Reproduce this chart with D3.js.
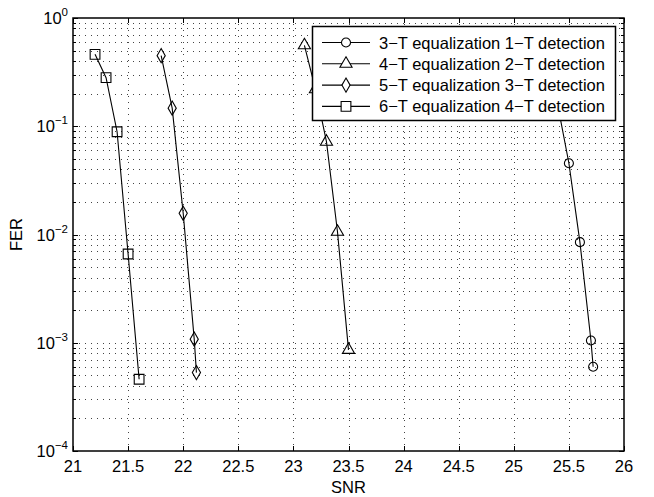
<!DOCTYPE html>
<html>
<head>
<meta charset="utf-8">
<script src="https://cdn.jsdelivr.net/npm/d3@7"></script>
<style>
  body { margin: 0; background: #fff; }
  text { font-family: "Liberation Sans", Arial, sans-serif; }
</style>
</head>
<body>
<div id="viz_area"></div>
<script>
// series data
var snr3 = [25.3, 25.4, 25.5, 25.6, 25.7, 25.72];
var fer3 = [0.5, 0.154, 0.0455, 0.0085, 0.00105, 0.0006];
var snr4 = [23.1, 23.2, 23.3, 23.4, 23.5];
var fer4 = [0.56, 0.22, 0.072, 0.0106, 0.00086];
var snr5 = [21.8, 21.9, 22.0, 22.1, 22.12];
var fer5 = [0.449, 0.147, 0.0157, 0.00108, 0.00053];
var snr6 = [21.2, 21.3, 21.4, 21.5, 21.6];
var fer6 = [0.462, 0.281, 0.089, 0.0066, 0.00046];
var seriesNames = ["3\u2212T equalization 1\u2212T detection", "4\u2212T equalization 2\u2212T detection",
                   "5\u2212T equalization 3\u2212T detection", "6\u2212T equalization 4\u2212T detection"];
var xTicks = [21, 21.5, 22, 22.5, 23, 23.5, 24, 24.5, 25, 25.5, 26];
var yDecades = [0, -1, -2, -3, -4];

function __init__() {
    drawChart();
}

function drawChart() {
    var w = 654, h = 497;
    var m = {left: 73, top: 18, right: 30, bottom: 46};
    var iw = w - m.left - m.right, ih = h - m.top - m.bottom;
    var fs = 16.5;

    var svg = d3.select("#viz_area").append("svg")
        .attr("width", w).attr("height", h);

    var x = d3.scaleLinear().domain([21, 26]).range([m.left, m.left + iw]);
    var y = d3.scaleLog().domain([1e-4, 1]).range([m.top + ih, m.top]);

    // minor values for the log grid
    var minors = [];
    for (var e = -4; e < 0; e++) {
        for (var k = 2; k <= 9; k++) minors.push(k * Math.pow(10, e));
    }
    var majors = yDecades.map(function(d) { return Math.pow(10, d); });

    var grid = svg.append("g").attr("stroke", "#444").attr("stroke-width", 1)
        .attr("stroke-dasharray", "1,5");
    grid.selectAll(".gx").data(xTicks.slice(1, -1)).enter().append("line")
        .attr("x1", function(d) { return Math.round(x(d)) + 0.5; })
        .attr("x2", function(d) { return Math.round(x(d)) + 0.5; })
        .attr("y1", m.top).attr("y2", m.top + ih);
    grid.selectAll(".gy").data(minors.concat(majors.slice(1, -1))).enter().append("line")
        .attr("y1", function(d) { return Math.round(y(d)) + 0.5; })
        .attr("y2", function(d) { return Math.round(y(d)) + 0.5; })
        .attr("x1", m.left).attr("x2", m.left + iw);

    // ticks (inward, both sides)
    var ticks = svg.append("g").attr("stroke", "#000").attr("stroke-width", 1);
    xTicks.forEach(function(t) {
        var xx = Math.round(x(t)) + 0.5;
        ticks.append("line").attr("x1", xx).attr("x2", xx).attr("y1", m.top + ih).attr("y2", m.top + ih - 5);
        ticks.append("line").attr("x1", xx).attr("x2", xx).attr("y1", m.top).attr("y2", m.top + 5);
    });
    majors.concat(minors).forEach(function(t) {
        var yy = Math.round(y(t)) + 0.5;
        var len = majors.indexOf(t) >= 0 ? 5 : 3;
        ticks.append("line").attr("y1", yy).attr("y2", yy).attr("x1", m.left).attr("x2", m.left + len);
        ticks.append("line").attr("y1", yy).attr("y2", yy).attr("x1", m.left + iw).attr("x2", m.left + iw - len);
    });

    // x tick labels
    svg.append("g").selectAll("text").data(xTicks).enter().append("text")
        .attr("x", function(d) { return x(d); })
        .attr("y", m.top + ih + 21)
        .attr("text-anchor", "middle")
        .attr("font-size", fs)
        .text(function(d) { return d; });

    // y tick labels 10^n
    var yl = svg.append("g").selectAll("text").data(yDecades).enter().append("text")
        .attr("x", m.left - 5)
        .attr("y", function(d) { return y(Math.pow(10, d)) + 6; })
        .attr("text-anchor", "end")
        .attr("font-size", fs);
    yl.append("tspan").text("10");
    yl.append("tspan").attr("dy", -8).attr("font-size", 11.5)
        .text(function(d) { return d === 0 ? "0" : "\u2212" + (-d); });

    svg.append("text").attr("x", m.left + iw / 2).attr("y", h - 4)
        .attr("text-anchor", "middle").attr("font-size", fs).text("SNR");
    svg.append("text").attr("transform", "translate(22," + (m.top + ih / 2) + ") rotate(-90)")
        .attr("text-anchor", "middle").attr("font-size", fs).text("FER");

    // series
    var series = [
        {snr: snr3, fer: fer3, sym: d3.symbolCircle, size: 64},
        {snr: snr4, fer: fer4, sym: d3.symbolTriangle, size: 64},
        {snr: snr5, fer: fer5, sym: d3.symbolDiamond, size: 58},
        {snr: snr6, fer: fer6, sym: d3.symbolSquare, size: 95}
    ];
    var line = d3.line().x(function(d) { return x(d[0]); }).y(function(d) { return y(d[1]); });

    series.forEach(function(s) {
        var pts = d3.zip(s.snr, s.fer);
        var g = svg.append("g");
        g.append("path").attr("d", line(pts)).attr("fill", "none")
            .attr("stroke", "#000").attr("stroke-width", 1.1);
        g.selectAll("path.mk").data(pts).enter().append("path")
            .attr("class", "mk")
            .attr("d", d3.symbol().type(s.sym).size(s.size))
            .attr("transform", function(d) { return "translate(" + x(d[0]) + "," + y(d[1]) + ")"; })
            .attr("fill", "none").attr("stroke", "#000").attr("stroke-width", 1.1);
    });

    // legend
    var lg = svg.append("g");
    lg.append("rect").attr("x", 312.5).attr("y", 26.5).attr("width", 303).attr("height", 94)
        .attr("fill", "#fff").attr("stroke", "#000").attr("stroke-width", 1.5);
    seriesNames.forEach(function(name, i) {
        var ry = 42.5 + i * 21.3;
        lg.append("line").attr("x1", 322).attr("x2", 370).attr("y1", ry).attr("y2", ry)
            .attr("stroke", "#000").attr("stroke-width", 1.1);
        lg.append("path").attr("d", d3.symbol().type(series[i].sym).size(series[i].size))
            .attr("transform", "translate(346," + ry + ")")
            .attr("fill", "#fff").attr("stroke", "#000").attr("stroke-width", 1.1);
        lg.append("text").attr("x", 379).attr("y", ry + 6).attr("font-size", fs).text(name);
    });

    // axes box
    svg.append("rect").attr("x", m.left).attr("y", m.top).attr("width", iw).attr("height", ih)
        .attr("fill", "none").attr("stroke", "#000").attr("stroke-width", 1.5);
}

window.onload = __init__;
</script>
</body>
</html>
